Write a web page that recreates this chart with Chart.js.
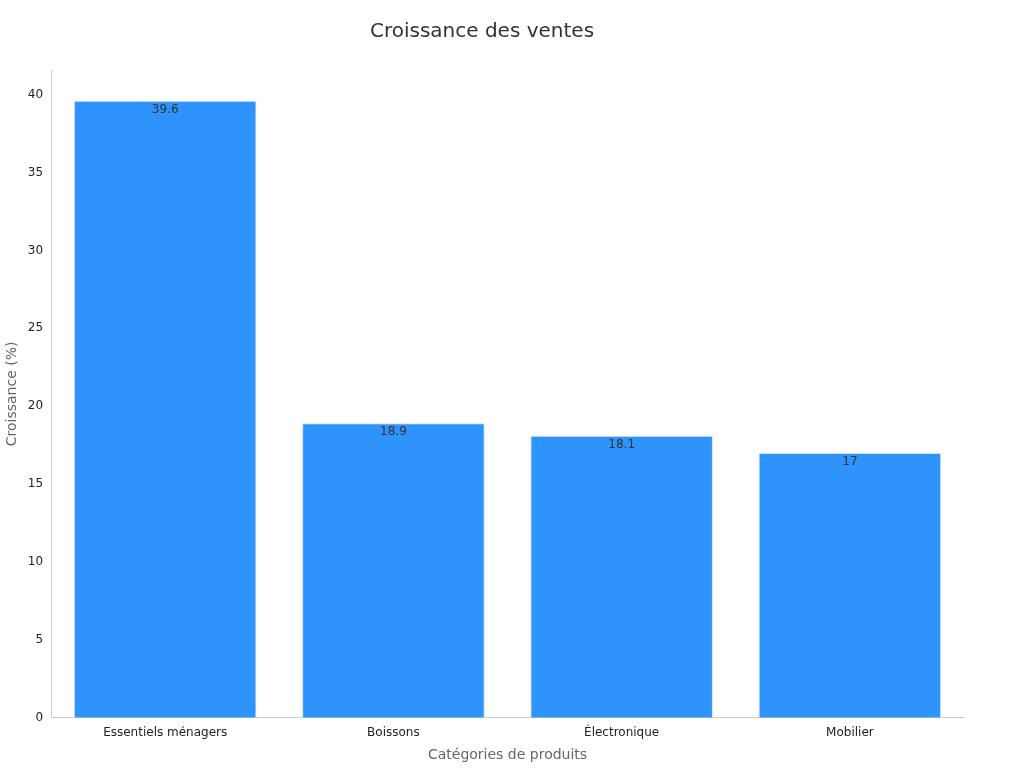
<!DOCTYPE html>
<html><head><meta charset="utf-8">
<script src="https://cdn.jsdelivr.net/npm/chart.js@4"></script>
<style>html,body{margin:0;background:#fff}#w{width:1024px;height:768px}</style>
</head><body><div id="w"><canvas id="c"></canvas></div>
<script>
const categories = ["Essentiels ménagers", "Boissons", "Électronique", "Mobilier"];
const values = [39.6, 18.9, 18.1, 17];
const labelPlugin = {
  id: 'lbl',
  afterDatasetsDraw(chart) {
    const ctx = chart.ctx;
    const meta = chart.getDatasetMeta(0);
    ctx.save();
    ctx.font = '12px "DejaVu Sans"';
    ctx.fillStyle = '#333';
    ctx.textAlign = 'center';
    ctx.textBaseline = 'top';
    meta.data.forEach((b, i) => ctx.fillText(String(values[i]), b.x, b.y + 3));
    ctx.restore();
  }
};
new Chart(document.getElementById('c'), {
  type: 'bar',
  data: { labels: categories, datasets: [{ data: values, backgroundColor: '#2E93FA', borderColor: '#cfe3fb', borderWidth: 1, barPercentage: 0.8, categoryPercentage: 1 }] },
  options: {
    responsive: true, maintainAspectRatio: false, animation: false,
    layout: { padding: { top: 10, right: 60, left: 0, bottom: 0 } },
    plugins: {
      legend: { display: false }, tooltip: { enabled: false },
      title: { display: true, text: 'Croissance des ventes', color: '#333', font: { family: 'DejaVu Sans', size: 20, weight: 'normal' }, padding: { top: 10, bottom: 26 } }
    },
    scales: {
      x: { grid: { display: false, drawTicks: true, tickLength: 5, color: '#ccc' }, border: { color: '#ccc' },
           ticks: { color: '#222', font: { family: 'DejaVu Sans', size: 12 } },
           title: { display: true, text: 'Catégories de produits', color: '#666', font: { family: 'DejaVu Sans', size: 14 } } },
      y: { min: 0, max: 41.58, grid: { display: false, drawTicks: true, tickLength: 5 }, border: { color: '#ccc' },
           afterBuildTicks(s) { s.ticks = [0,5,10,15,20,25,30,35,40].map(v => ({ value: v })); },
           ticks: { color: '#222', font: { family: 'DejaVu Sans', size: 12 } },
           title: { display: true, text: 'Croissance (%)', color: '#666', font: { family: 'DejaVu Sans', size: 14 } } }
    }
  },
  plugins: [labelPlugin]
});
</script></body></html>
